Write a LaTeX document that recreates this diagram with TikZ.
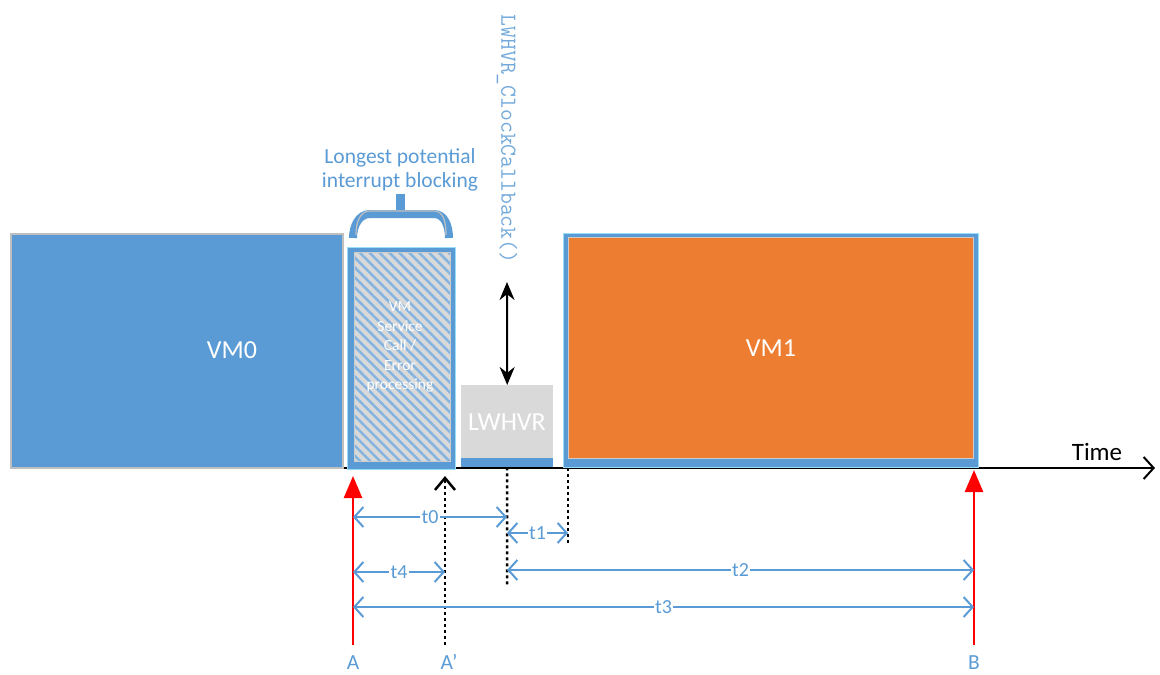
\documentclass[tikz,border=0pt]{standalone}
\usepackage{fontspec}
\setmainfont{Carlito}
\usetikzlibrary{arrows.meta,patterns.meta}
\definecolor{vmblue}{HTML}{5B9BD5}
\definecolor{vmorange}{HTML}{ED7D31}
\definecolor{hvgrey}{HTML}{D9D9D9}

\begin{document}
\begin{tikzpicture}[x=1pt,y=-1pt,
  box/.style={anchor=north west,inner sep=0pt,draw=black!25,line width=1.5pt},
  boxtext/.style={text=white,font=\fontsize{26}{30}\selectfont},
  bluetext/.style={text=vmblue,font=\fontsize{21.5}{24}\selectfont},
  dimline/.style={vmblue,line width=2pt,
    {Straight Barb[length=9pt,width=20pt]}-{Straight Barb[length=9pt,width=20pt]}},
  dimlabel/.style={bluetext,fill=white,inner sep=1.5pt,font=\fontsize{20}{24}\selectfont},
  marker/.style={red,line width=2.5pt,-{Triangle[length=22pt,width=18pt]}},
  markerlabel/.style={bluetext,anchor=base,inner sep=0pt},
  guide/.style={line width=2.5pt,dash pattern=on 3pt off 3pt}]
  \useasboundingbox (0,0) rectangle (1160,675);

  % Time axis
  \coordinate (axisstart) at (10,468);
  \coordinate (axisend) at (1155,468);
  \draw[line width=2pt,-{Straight Barb[length=10pt,width=22pt]}] (axisstart) -- (axisend);
  \node[font=\fontsize{25}{28}\selectfont] (timelabel) at (1097,452) {Time};

  % VM0
  \node[box,fill=vmblue,minimum width=332pt,minimum height=234pt] (vm0) at (10,233) {};
  \node[boxtext] (vm0text) at (232,350) {VM0};

  % VM service call / error processing
  \node[box,draw=cyan!40,line width=1pt,fill=vmblue,minimum width=108pt,minimum height=222pt] (svc) at (347,247) {};
  \node[anchor=north west,inner sep=0pt,draw=black!20,line width=1pt,
    preaction={fill=hvgrey},pattern={Lines[angle=-45,distance=7pt,line width=2.5pt]},
    pattern color=vmblue!75,minimum width=96pt,minimum height=209pt] (svcin) at (353,251) {};
  \node[text=white,align=center,font=\fontsize{15.5}{19.5}\selectfont] (svctext) at (400,347)
    {VM\\Service\\Call /\\Error\\processing};

  % brace over the blocking window
  \draw[vmblue,line width=8pt] (353,238) to[out=90,in=180] (370,214) -- (434,214)
    to[out=0,in=90] (449,238);
  \draw[vmblue,line width=9pt] (400,214) -- (400,194);
  \draw[black!25,line width=1.2pt] (356,235) to[out=90,in=180] (370,211) -- (434,211)
    to[out=0,in=90] (446,235);
  \node[bluetext,align=center] (blocktext) at (400,170) {Longest potential\\interrupt blocking};

  % LWHVR
  \node[anchor=north west,inner sep=0pt,fill=hvgrey,minimum width=92pt,minimum height=82pt] (lwhvr) at (461,385) {};
  \fill[vmblue] (lwhvr.south west) rectangle ++(92,-9);
  \node[boxtext] (lwhvrtext) at (507,422) {LWHVR};
  \node[rotate=-90,text=vmblue!85,font=\ttfamily\fontsize{23}{27}\selectfont] (cbtext) at (507,139)
    {LWHVR\_ClockCallback()};
  \coordinate (cbarrow) at (507,282);
  \draw[line width=2pt,{Stealth[length=18pt,width=15pt]}-{Stealth[length=18pt,width=15pt]}]
    (cbarrow) -- (lwhvr.north);

  % VM1
  \node[box,draw=cyan!40,line width=1pt,fill=vmblue,minimum width=415pt,minimum height=234pt] (vm1) at (563,233) {};
  \node[anchor=north west,inner sep=0pt,draw=black!20,line width=1pt,fill=vmorange,
    minimum width=405pt,minimum height=221pt,boxtext] (vm1in) at (568,237) {VM1};

  % markers A, A' and B
  \coordinate (A) at (353,645);
  \coordinate (Atip) at (353,476);
  \coordinate (Ap) at (445,645);
  \coordinate (Aptip) at (445,476);
  \coordinate (B) at (974,645);
  \coordinate (Btip) at (974,470);
  \draw[marker] (A) -- (Atip);
  \draw[marker] (B) -- (Btip);
  \draw[guide,-{Straight Barb[length=12pt,width=20pt,line width=2.5pt]}] (Ap) -- (Aptip);
  \node[markerlabel] (Alabel) at (353,669) {A};
  \node[markerlabel] (Aplabel) at (449,669) {A’};
  \node[markerlabel] (Blabel) at (974,669) {B};

  % guides below LWHVR and VM1
  \coordinate (g0) at (507,585);
  \coordinate (g1) at (568,545);
  \draw[guide] (lwhvr.south) -- (g0);
  \draw[guide] (vm1in.south west |- axisstart) -- (g1);

  % time intervals
  \coordinate (t0a) at (353,517); \coordinate (t0b) at (507,517);
  \coordinate (t1a) at (507,533); \coordinate (t1b) at (568,533);
  \coordinate (t4a) at (353,572); \coordinate (t4b) at (445,572);
  \coordinate (t2a) at (507,570); \coordinate (t2b) at (974,570);
  \coordinate (t3a) at (353,607); \coordinate (t3b) at (974,607);
  \draw[dimline] (t0a) -- node[dimlabel] {t0} (t0b);
  \draw[dimline] (t1a) -- node[dimlabel] {t1} (t1b);
  \draw[dimline] (t4a) -- node[dimlabel] {t4} (t4b);
  \draw[dimline] (t2a) -- node[dimlabel] {t2} (t2b);
  \draw[dimline] (t3a) -- node[dimlabel] {t3} (t3b);
\end{tikzpicture}
\end{document}
